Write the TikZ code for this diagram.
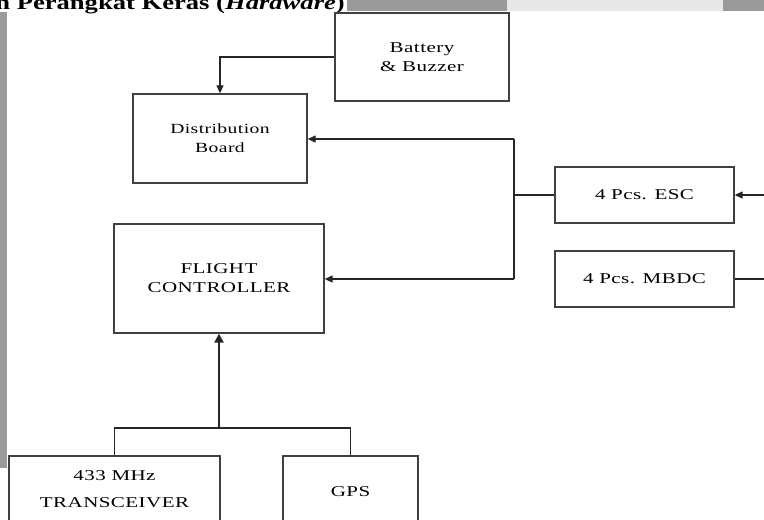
\documentclass[tikz,border=0pt]{standalone}
\usepackage{fontspec}
\setmainfont{Liberation Serif}
\newfontfamily\diag[FakeStretch=1.4,LetterSpace=3]{Liberation Serif}
\newfontfamily\hdr[FakeStretch=1.33]{Liberation Serif}
\usetikzlibrary{arrows.meta}
\definecolor{bardark}{HTML}{9A9A9A}
\definecolor{barlight}{HTML}{E8E8E8}
\tikzset{
  box/.style={draw=black!75, line width=1.3pt, fill=white, align=center, inner sep=0pt,
    font=\diag\fontsize{15}{19}\selectfont},
  conn/.style={draw=black!85, line width=1.2pt},
  arr/.style={conn, -{Triangle[length=8pt,width=7pt]}},
  thickarr/.style={draw=black!85, line width=2.6pt, -{Triangle[length=9pt,width=9pt]}},
}
\begin{document}
\begin{tikzpicture}[x=1pt,y=-1pt]
\useasboundingbox (0,0) rectangle (764,520);
\clip (0,0) rectangle (764,520);
% page decorations
\fill[bardark] (347,0) rectangle (507,11);
\fill[barlight] (507,0) rectangle (723,11);
\fill[bardark] (723,0) rectangle (764,11);
\fill[bardark] (0,12) rectangle (7,468);
\node[anchor=base east, inner sep=0pt, font=\hdr\bfseries\fontsize{20}{22}\selectfont] (hdr) at (345,9) {n Perangkat Keras (\textit{Hardware})};
% boxes
\node[box, minimum width=174pt, minimum height=88pt] (bat) at (422,57) {Battery\\\& Buzzer};
\node[box, minimum width=174pt, minimum height=89pt, font=\diag\fontsize{14}{19}\selectfont] (dist) at (220,138.5) {Distribution\\Board};
\node[box, minimum width=210pt, minimum height=109pt] (fc) at (219,278.5) {FLIGHT\\CONTROLLER};
\node[box, minimum width=179pt, minimum height=56pt] (esc) at (644.5,195) {4 Pcs. ESC};
\node[box, minimum width=179pt, minimum height=56pt] (mbdc) at (644.5,279) {4 Pcs. MBDC};
\node[box, minimum width=211pt, minimum height=66pt, font=\diag\fontsize{15}{27}\selectfont] (trx) at (114.5,489) {433 MHz\\TRANSCEIVER};
\node[box, minimum width=135pt, minimum height=72pt] (gps) at (350.5,492) {GPS};
% coordinates
\coordinate (jt) at (514,139);
\coordinate (jm) at (514,195);
\coordinate (jb) at (514,279);
\coordinate (bl) at (114.5,428);
\coordinate (bm) at (219,428);
\coordinate (br) at (350.5,428);
\coordinate (escin) at (764,195);
\coordinate (mbdcout) at (764,279);
% connectors
\draw[arr] (bat.west) -| (dist.north);
\draw[conn] (esc.west) -- (jm);
\draw[conn] (jt) -- (jb);
\draw[arr] (jt) -- (dist.east |- jt);
\draw[arr] (jb) -- (fc.east |- jb);
\draw[arr] (escin) -- (esc.east);
\draw[conn] (mbdc.east) -- (mbdcout);
\draw[conn] (trx.north) -- (bl) -- (br) -- (gps.north);
\draw[thickarr] (bm) -- (fc.south);
\end{tikzpicture}
\end{document}
